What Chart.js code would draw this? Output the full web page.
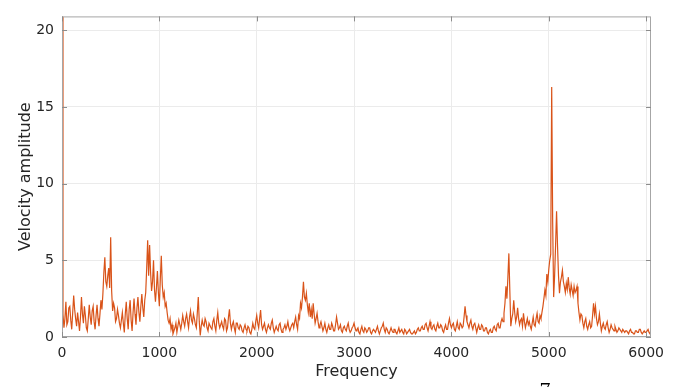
<!DOCTYPE html>
<html>
<head>
<meta charset="utf-8">
<script src="https://cdn.jsdelivr.net/npm/chart.js@4.4.1/dist/chart.umd.min.js"></script>
<style>
  html, body { margin: 0; padding: 0; background: #fff; }
  #wrap { width: 684px; height: 387px; }
</style>
</head>
<body>
<div id="wrap"><canvas id="spectrum" width="684" height="387"></canvas></div>
<script>
"use strict";

/*----------------------------------------*/
/*  data (10 Hz step)
/*----------------------------------------*/
var freqStep = 10;
var amplitude = [
	20.9, 1.5, 0.6, 1.2, 2.3, 0.8, 1.0, 1.9, 2.0, 1.1, 0.5, 1.6, 2.7, 1.8, 1.2, 0.7, 1.6, 1.0, 0.4, 1.3,
	2.6, 1.5, 0.9, 2.0, 1.4, 0.6, 0.4, 1.2, 2.1, 1.3, 0.8, 1.7, 2.0, 1.0, 0.5, 1.4, 2.1, 1.2, 0.7, 1.5,
	2.4, 1.8, 2.8, 4.2, 5.2, 3.6, 3.3, 4.0, 4.5, 3.2, 6.5, 3.0, 1.7, 2.2, 1.9, 1.0, 1.2, 1.8, 1.4, 0.9,
	0.6, 1.1, 1.6, 0.9, 0.3, 1.5, 2.3, 1.2, 0.5, 1.8, 2.4, 1.1, 0.4, 1.6, 2.5, 1.5, 0.8, 1.9, 2.6, 1.6,
	1.0, 2.0, 2.8, 1.9, 1.3, 2.4, 2.9, 4.5, 6.3, 4.0, 6.0, 4.2, 3.0, 3.6, 5.0, 3.1, 2.3, 3.2, 4.3, 2.9,
	2.0, 3.8, 5.3, 3.4, 2.6, 2.9, 2.0, 2.2, 1.6, 1.1, 0.9, 1.2, 0.5, 0.8, 0.2, 0.4, 0.6, 0.9, 0.3, 0.7,
	1.1, 0.8, 0.5, 0.9, 1.4, 1.0, 0.7, 1.2, 1.5, 1.0, 0.6, 1.3, 1.7, 1.1, 0.9, 1.5, 1.2, 0.8, 0.6, 1.6,
	2.6, 1.0, 0.1, 0.7, 1.1, 0.8, 0.7, 1.2, 1.0, 0.6, 0.4, 0.9, 0.9, 0.6, 0.5, 1.0, 1.2, 0.7, 0.4, 1.1,
	1.6, 0.9, 0.6, 0.8, 1.0, 0.7, 0.5, 1.2, 1.1, 0.4, 0.6, 1.3, 1.8, 0.9, 0.5, 0.8, 1.0, 0.6, 0.3, 0.9,
	0.9, 0.6, 0.5, 0.8, 0.7, 0.4, 0.3, 0.6, 0.8, 0.5, 0.4, 0.7, 0.6, 0.3, 0.2, 0.5, 0.9, 0.6, 0.5, 1.0,
	1.4, 0.9, 0.6, 1.2, 1.75, 0.8, 0.5, 0.7, 0.9, 0.5, 0.3, 0.6, 0.8, 0.6, 0.5, 0.9, 1.1, 0.6, 0.3, 0.5,
	0.7, 0.5, 0.4, 0.8, 0.9, 0.5, 0.3, 0.5, 0.6, 0.8, 0.5, 0.7, 1.0, 0.6, 0.4, 0.6, 0.8, 0.9, 0.6, 1.0,
	1.3, 0.8, 0.5, 1.4, 1.2, 2.2, 1.9, 2.6, 3.6, 2.6, 2.4, 2.85, 2.1, 1.6, 2.2, 1.3, 1.8, 1.2, 2.2, 1.5,
	0.9, 1.2, 1.55, 1.0, 0.6, 0.8, 1.0, 0.7, 0.4, 0.6, 0.9, 0.5, 0.3, 0.6, 0.8, 0.5, 0.5, 0.9, 0.7, 0.4,
	0.4, 0.8, 1.3, 0.9, 0.5, 0.6, 0.8, 0.4, 0.3, 0.6, 0.7, 0.5, 0.4, 0.7, 0.9, 0.5, 0.3, 0.4, 0.6, 0.7,
	0.9, 0.6, 0.4, 0.5, 0.6, 0.3, 0.2, 0.5, 0.7, 0.4, 0.3, 0.6, 0.5, 0.3, 0.4, 0.6, 0.6, 0.3, 0.2, 0.4,
	0.5, 0.4, 0.3, 0.5, 0.7, 0.4, 0.2, 0.4, 0.6, 0.7, 0.9, 0.5, 0.3, 0.6, 0.5, 0.3, 0.2, 0.4, 0.6, 0.4,
	0.3, 0.5, 0.5, 0.3, 0.2, 0.4, 0.6, 0.3, 0.4, 0.5, 0.3, 0.2, 0.5, 0.4, 0.2, 0.3, 0.4, 0.5, 0.3, 0.2,
	0.2, 0.3, 0.4, 0.2, 0.3, 0.5, 0.6, 0.4, 0.4, 0.6, 0.7, 0.5, 0.5, 0.8, 0.9, 0.6, 0.4, 0.7, 1.0, 0.6,
	0.5, 0.7, 0.8, 0.5, 0.4, 0.7, 0.9, 0.6, 0.6, 0.8, 0.7, 0.4, 0.3, 0.6, 0.8, 0.5, 0.5, 0.9, 1.2, 0.8,
	0.6, 0.8, 0.9, 0.5, 0.4, 0.7, 1.0, 0.6, 0.5, 0.9, 0.8, 0.6, 0.7, 1.3, 2.0, 1.4, 1.0, 0.8, 0.6, 0.9,
	1.1, 0.7, 0.5, 0.8, 0.9, 0.6, 0.3, 0.6, 0.8, 0.5, 0.5, 0.8, 0.7, 0.4, 0.4, 0.6, 0.6, 0.3, 0.2, 0.4,
	0.5, 0.3, 0.3, 0.6, 0.7, 0.5, 0.4, 0.8, 0.9, 0.6, 0.6, 1.0, 1.2, 1.0, 1.55, 2.2, 3.3, 2.5, 3.9, 5.45,
	3.0, 0.7, 1.2, 1.5, 2.4, 1.6, 1.0, 1.3, 1.9, 1.2, 0.8, 1.1, 1.2, 0.7, 1.55, 1.0, 0.6, 0.9, 1.2, 0.8,
	1.0, 0.7, 0.5, 0.9, 1.3, 0.8, 0.7, 1.2, 1.55, 1.0, 0.9, 1.4, 1.2, 1.6, 2.0, 2.5, 3.05, 2.7, 4.1, 3.6,
	4.4, 5.0, 5.4, 16.3, 7.5, 2.6, 4.0, 6.0, 8.2, 5.9, 4.0, 2.85, 3.6, 3.9, 4.35, 3.6, 3.3, 2.9, 3.5, 3.1,
	3.9, 3.2, 2.8, 3.4, 3.05, 2.7, 3.3, 2.9, 3.05, 3.3, 2.2, 1.6, 1.1, 1.5, 1.4, 0.9, 0.6, 1.0, 1.2, 0.7,
	0.5, 0.8, 1.0, 0.6, 0.7, 1.4, 2.2, 1.5, 2.0, 1.2, 0.8, 1.0, 1.5, 0.9, 0.4, 0.7, 0.9, 0.6, 0.5, 0.8,
	1.0, 0.6, 0.3, 0.5, 0.8, 0.6, 0.5, 0.4, 0.7, 0.5, 0.3, 0.4, 0.6, 0.5, 0.4, 0.3, 0.5, 0.4, 0.3, 0.4,
	0.4, 0.3, 0.2, 0.4, 0.5, 0.3, 0.3, 0.2, 0.2, 0.4, 0.4, 0.3, 0.3, 0.5, 0.5, 0.3, 0.2, 0.3, 0.4, 0.3,
	0.3, 0.4, 0.5, 0.3, 0.2, 0.4
];
var xTicks = [0, 1000, 2000, 3000, 4000, 5000, 6000];
var yTicks = [0, 5, 10, 15, 20];
var xMax = 6050;
var yMax = 20.9;

var points = amplitude.map(function (v, i) {
	return { x: i * freqStep, y: v };
});

var textColor = '#262626';
var fontFamily = '"DejaVu Sans", sans-serif';

/*----------------------------------------*/
/*  box, inner tick marks, stray "7"
/*----------------------------------------*/
var matlabBox = {
	id: 'matlabBox',
	afterDraw: function (chart) {
		var c = chart.ctx, a = chart.chartArea;
		var xs = chart.scales.x, ys = chart.scales.y;
		c.save();
		c.strokeStyle = '#a6a6a6';
		c.lineWidth = 1;
		c.strokeRect(a.left + 0.5, a.top + 0.5, a.right - a.left - 1, a.bottom - a.top - 1);
		c.strokeStyle = '#8c8c8c';
		c.beginPath();
		xTicks.forEach(function (t) {
			var px = Math.round(xs.getPixelForValue(t)) + 0.5;
			c.moveTo(px, a.bottom); c.lineTo(px, a.bottom - 5);
			c.moveTo(px, a.top); c.lineTo(px, a.top + 5);
		});
		yTicks.forEach(function (t) {
			var py = Math.round(ys.getPixelForValue(t)) + 0.5;
			c.moveTo(a.left, py); c.lineTo(a.left + 5, py);
			c.moveTo(a.right, py); c.lineTo(a.right - 5, py);
		});
		c.stroke();
		// cut-off exponent glyph under the axis
		c.fillStyle = '#000';
		c.font = '22px "Liberation Serif", serif';
		c.textAlign = 'center';
		c.fillText('7', 545, 397);
		c.restore();
	}
};

var ctx = document.getElementById('spectrum');
var chart = new Chart(ctx, {
	type: 'line',
	data: {
		datasets: [{
			label: 'Velocity amplitude',
			data: points,
			borderColor: '#D95319',
			borderWidth: 1.2,
			pointRadius: 0,
			tension: 0,
			fill: false
		}]
	},
	options: {
		responsive: false,
		animation: false,
		layout: { padding: { top: 15, right: 33, left: 0, bottom: 0 } },
		plugins: {
			legend: { display: false },
			tooltip: { enabled: false }
		},
		scales: {
			x: {
				type: 'linear',
				min: 0,
				max: xMax,
				afterBuildTicks: function (axis) {
					axis.ticks = xTicks.map(function (v) { return { value: v }; });
				},
				afterFit: function (axis) { axis.height = 50; },
				grid: { color: '#ebebeb', drawTicks: false },
				border: { display: false },
				ticks: {
					color: textColor, padding: 8, maxRotation: 0,
					font: { family: fontFamily, size: 14 },
					callback: function (v) { return String(v); }
				},
				title: {
					display: true, text: 'Frequency', color: textColor,
					padding: { top: 0, bottom: 6 },
					font: { family: fontFamily, size: 16 }
				}
			},
			y: {
				min: 0,
				max: yMax,
				afterBuildTicks: function (axis) {
					axis.ticks = yTicks.map(function (v) { return { value: v }; });
				},
				afterFit: function (axis) { axis.width = 62; },
				grid: { color: '#ebebeb', drawTicks: false },
				border: { display: false },
				ticks: {
					color: textColor, padding: 8,
					font: { family: fontFamily, size: 14 }
				},
				title: {
					display: true, text: 'Velocity amplitude', color: textColor,
					padding: { top: 16, bottom: 0 },
					font: { family: fontFamily, size: 16 }
				}
			}
		}
	},
	plugins: [matlabBox]
});
</script>
</body>
</html>
